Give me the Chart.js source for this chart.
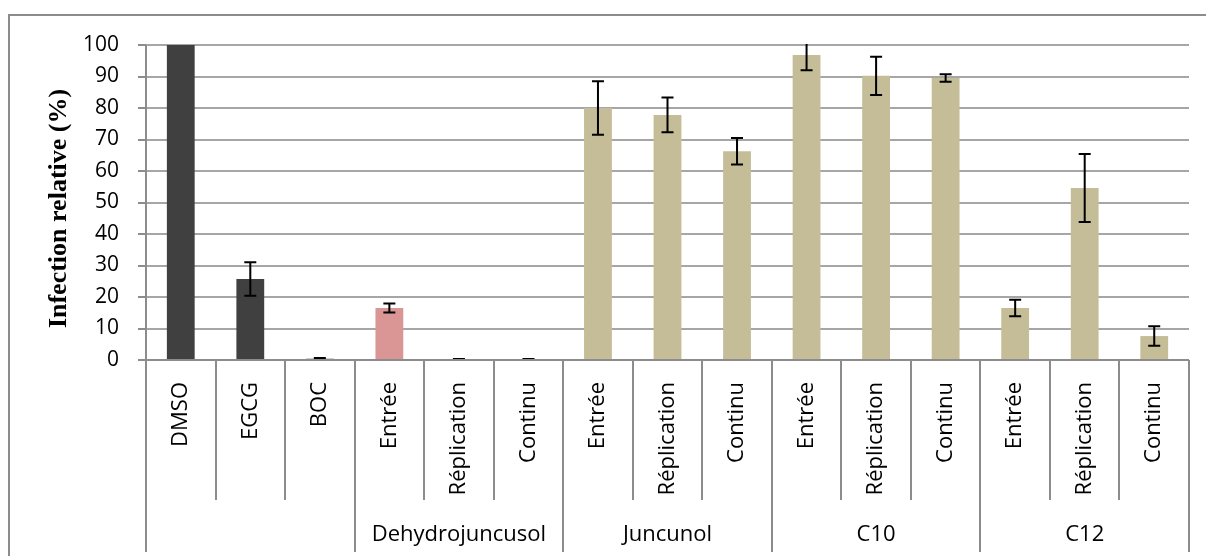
<!DOCTYPE html>
<html>
<head>
<meta charset="utf-8">
<script src="https://cdn.jsdelivr.net/npm/chart.js@4/dist/chart.umd.min.js"></script>
<style>
  html, body { margin: 0; padding: 0; background: #fff; }
  #wrap { width: 1206px; height: 556px; }
</style>
</head>
<body>
<div id="wrap"><canvas id="chart" width="1206" height="556"></canvas></div>
<script>
// Infection relative - bar chart with two-level category axis

const categories = ['DMSO', 'EGCG', 'BOC',
    'Entrée', 'Réplication', 'Continu',
    'Entrée', 'Réplication', 'Continu',
    'Entrée', 'Réplication', 'Continu',
    'Entrée', 'Réplication', 'Continu'];
const groupLabels = ['', 'Dehydrojuncusol', 'Juncunol', 'C10', 'C12'];
const groupSizes = [3, 3, 3, 3, 3];
const values = [100, 25.7, 0.4, 16.5, 0.2, 0.2, 80, 77.8, 66.3, 96.8, 90.2, 89.5, 16.5, 54.6, 7.6];
const errors = [0, 5.3, 0.2, 1.4, 0.1, 0.1, 8.5, 5.5, 4.2, 4.8, 6.1, 1.2, 2.6, 10.8, 3.1];
const yTicks = [0, 10, 20, 30, 40, 50, 60, 70, 80, 90, 100];

const AXIS_GRAY = '#8c8c8c';
const FONT = '"Open Sans", "Liberation Sans", sans-serif';

// bar colours: controls dark, dehydrojuncusol entry pink, the rest khaki
const barColors = categories.map((c, i) => {
    if (i < 3) return '#404040';
    if (i === 3) return '#d99694';
    return '#c4bd97';
});

const errorBars = {
    id: 'errorBars',
    afterDatasetsDraw(chart) {
        const ctx = chart.ctx;
        const meta = chart.getDatasetMeta(0);
        const y = chart.scales.y;
        const area = chart.chartArea;
        ctx.save();
        ctx.beginPath();
        ctx.rect(area.left, area.top - 1, area.right - area.left, area.bottom - area.top + 2);
        ctx.clip();
        ctx.strokeStyle = '#000';
        ctx.lineWidth = 2;
        meta.data.forEach((bar, i) => {
            if (!errors[i]) return;
            const x = bar.x;
            const yTop = y.getPixelForValue(values[i] + errors[i]);
            const yBot = y.getPixelForValue(values[i] - errors[i]);
            const cap = 6;
            ctx.beginPath();
            ctx.moveTo(x, yTop); ctx.lineTo(x, yBot);
            ctx.moveTo(x - cap, yTop); ctx.lineTo(x + cap, yTop);
            ctx.moveTo(x - cap, yBot); ctx.lineTo(x + cap, yBot);
            ctx.stroke();
        });
        ctx.restore();
    }
};

const categoryAxis = {
    id: 'categoryAxis',
    afterDraw(chart) {
        const ctx = chart.ctx;
        const x = chart.scales.x;
        const area = chart.chartArea;
        const half = (x.getPixelForValue(1) - x.getPixelForValue(0)) / 2;
        const innerBottom = 500;
        const groupBottom = 552;

        ctx.save();
        ctx.strokeStyle = AXIS_GRAY;
        ctx.lineWidth = 2;

        // group boundaries
        const groupEdges = [0];
        groupSizes.forEach(n => groupEdges.push(groupEdges[groupEdges.length - 1] + n));

        for (let i = 0; i <= categories.length; i++) {
            const px = Math.round(x.getPixelForValue(i) - half);
            const isGroupEdge = groupEdges.includes(i);
            ctx.beginPath();
            ctx.moveTo(px, area.bottom);
            ctx.lineTo(px, isGroupEdge ? groupBottom : innerBottom);
            ctx.stroke();
        }

        // x axis line
        ctx.beginPath();
        ctx.moveTo(area.left - 8, area.bottom);
        ctx.lineTo(area.right, area.bottom);
        ctx.stroke();

        // y axis line
        ctx.beginPath();
        ctx.moveTo(area.left, area.top);
        ctx.lineTo(area.left, area.bottom);
        ctx.stroke();

        // group labels
        ctx.fillStyle = '#000';
        ctx.font = '22px ' + FONT;
        ctx.textAlign = 'center';
        ctx.textBaseline = 'middle';
        groupLabels.forEach((label, g) => {
            if (!label) return;
            const start = groupEdges[g], end = groupEdges[g + 1] - 1;
            const cx = (x.getPixelForValue(start) + x.getPixelForValue(end)) / 2;
            ctx.fillText(label, cx, 535);
        });

        // y axis title
        ctx.save();
        ctx.translate(59, (area.top + area.bottom) / 2 + 6);
        ctx.rotate(-Math.PI / 2);
        ctx.font = 'bold 26px "Liberation Serif", "Times New Roman", serif';
        ctx.fillText('Infection relative (%)', 0, 0);
        ctx.restore();

        // outer frame
        ctx.strokeStyle = AXIS_GRAY;
        ctx.lineWidth = 2;
        ctx.beginPath();
        ctx.moveTo(9, 570);
        ctx.lineTo(9, 15);
        ctx.lineTo(1210, 15);
        ctx.stroke();
        ctx.restore();
    }
};

const ctx = document.getElementById('chart').getContext('2d');

new Chart(ctx, {
    type: 'bar',
    data: {
        labels: categories,
        datasets: [{
            label: 'Infection relative',
            data: values,
            backgroundColor: barColors,
            borderWidth: 0,
            categoryPercentage: 1,
            barPercentage: 0.4
        }]
    },
    options: {
        responsive: false,
        animation: false,
        events: [],
        layout: {
            padding: { left: 0, right: 17, top: 45, bottom: 0 }
        },
        plugins: {
            legend: { display: false },
            tooltip: { enabled: false }
        },
        scales: {
            x: {
                grid: { display: false },
                border: { display: false },
                ticks: {
                    color: '#000',
                    font: { family: FONT, size: 22 },
                    maxRotation: 90,
                    minRotation: 90,
                    padding: 14,
                    autoSkip: false
                },
                afterFit(scale) { scale.height = 196; }
            },
            y: {
                min: 0,
                max: 100,
                afterBuildTicks(scale) { scale.ticks = yTicks.map(v => ({ value: v })); },
                grid: {
                    color: '#a6a6a6',
                    lineWidth: 2,
                    tickLength: 8,
                    tickColor: AXIS_GRAY
                },
                border: { display: false },
                ticks: {
                    color: '#000',
                    font: { family: FONT, size: 21 },
                    padding: 19
                },
                afterFit(scale) { scale.width = 146; }
            }
        }
    },
    plugins: [errorBars, categoryAxis]
});
</script>
</body>
</html>
